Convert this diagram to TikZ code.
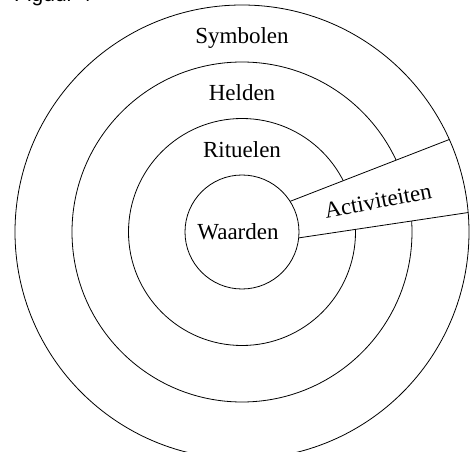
\documentclass[tikz,border=0pt]{standalone}
\usepackage{fontspec}
\setmainfont{Liberation Serif}
\setsansfont{Liberation Sans}
\usetikzlibrary{calc}
\begin{document}
\begin{tikzpicture}[x=1pt,y=-1pt,
  ring/.style={draw=black, line width=0.8pt},
  lbl/.style={font=\fontsize{23}{27}\selectfont, inner sep=0pt}]
\useasboundingbox (0,0) rectangle (475,452);
\coordinate (c) at (242,232);
% middle rings
\draw[ring] (c) circle[radius=170];
\draw[ring] (c) circle[radius=113.5];
% band end points
\coordinate (u1) at (291,201);
\coordinate (u2) at (448,140);
\coordinate (l1) at (298,238);
\coordinate (l2) at (465,213);
\fill[white] ($(u1)!-0.3!(u2)$) -- ($(u1)!1.3!(u2)$) -- ($(l1)!1.3!(l2)$) -- ($(l1)!-0.3!(l2)$) -- cycle;
\begin{scope}
  \clip (c) circle[radius=227];
  \draw[ring] ($(u1)!-0.3!(u2)$) -- ($(u1)!1.3!(u2)$);
  \draw[ring] ($(l1)!-0.3!(l2)$) -- ($(l1)!1.3!(l2)$);
\end{scope}
% inner and outer circles
\node[circle, ring, fill=white, minimum size=114pt, inner sep=0pt] (waarden) at (c) {};
\node[lbl] (waardentext) at (238,232) {Waarden};
\draw[ring] (c) circle[radius=227];
% labels
\node[lbl] (symbolen) at (242,38) {Symbolen};
\node[lbl] (helden) at (242,93) {Helden};
\node[lbl] (rituelen) at (242,150) {Rituelen};
\node[lbl, rotate=11] (activiteiten) at (378,201) {Activiteiten};
\node[anchor=base west, inner sep=0pt, font=\sffamily\fontsize{21}{25}\selectfont] (figuur) at (14,2) {Figuur 4};
\end{tikzpicture}
\end{document}
